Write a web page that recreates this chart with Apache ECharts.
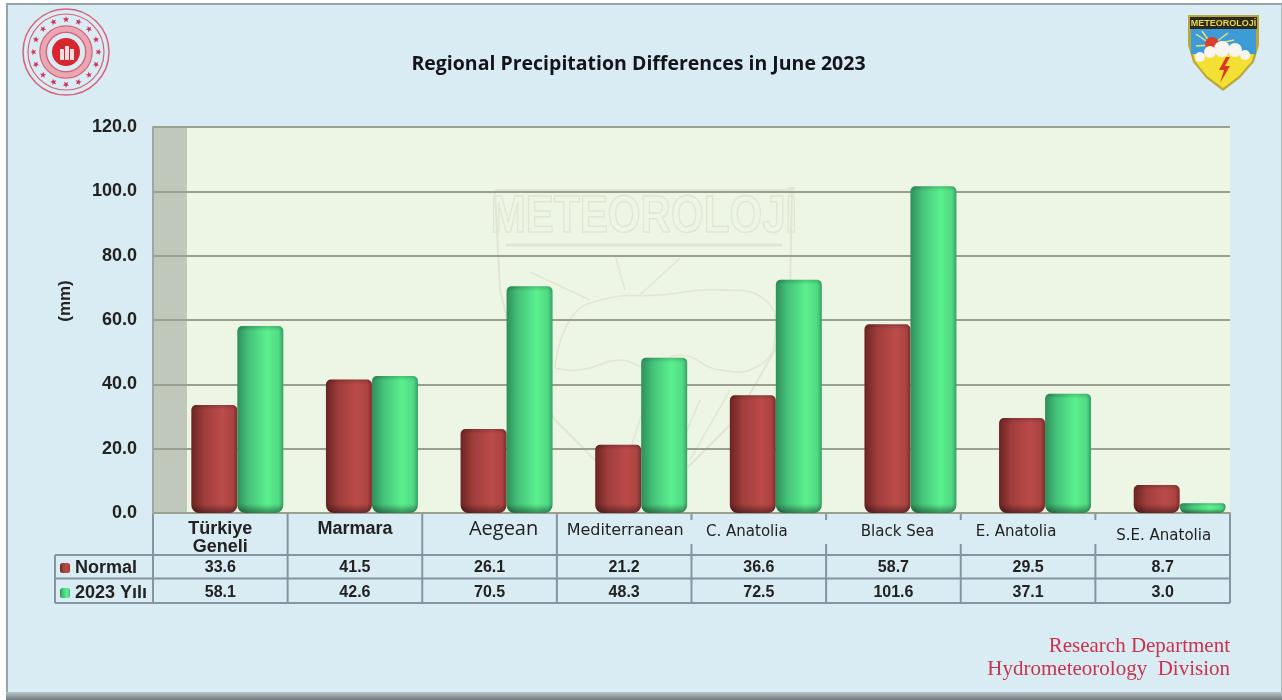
<!DOCTYPE html>
<html><head><meta charset="utf-8">
<style>
html,body{margin:0;padding:0;background:#fff;width:1282px;height:700px;overflow:hidden}
#panel{position:absolute;left:6px;top:3px;width:1273px;height:689px;background:#d9ebf3;border:2px solid #97a5aa;border-bottom:none;border-right:1px solid #a9b6ba}
#shade{position:absolute;left:6px;top:692px;width:1276px;height:8px;background:linear-gradient(#b9c4c8,#6f7b80)}
#c{position:absolute;left:0;top:0;width:1282px;height:700px}
</style>
<script src="https://cdn.jsdelivr.net/npm/echarts@6/dist/echarts.min.js"></script>
</head><body><div id="panel"></div><div id="shade"></div><div id="c"></div>
<script>
const categories = ['Türkiye\nGeneli','Marmara','Aegean','Mediterranean','C. Anatolia','Black Sea','E. Anatolia','S.E. Anatolia'];
const normalValues = [33.6,41.5,26.1,21.2,36.6,58.7,29.5,8.7];
const yearValues = [58.1,42.6,70.5,48.3,72.5,101.6,37.1,3.0];
const yTicks = {min:0,max:120,interval:20};
const titleText = 'Regional Precipitation Differences in June 2023';
const footerLines = ['Research Department','Hydrometeorology  Division'];

// style tables (label placement in the header row of the data table)
const labelStyle = [
 {font:'Liberation Sans',size:18,weight:'bold',dx:0,dy:0},
 {font:'Liberation Sans',size:18,weight:'bold',dx:0,dy:0},
 {font:'Open Sans',size:20,weight:'normal',dx:14,dy:0},
 {font:'DejaVu Sans',size:16,weight:'normal',dx:1,dy:4},
 {font:'DejaVu Sans',size:15,weight:'normal',dx:-12,dy:6},
 {font:'DejaVu Sans',size:15,weight:'normal',dx:4,dy:6},
 {font:'DejaVu Sans',size:15,weight:'normal',dx:-12,dy:6},
 {font:'DejaVu Sans',size:15,weight:'normal',dx:1,dy:15}
];
const rich = {};
labelStyle.forEach((s,i)=>{
  rich['c'+i]={fontFamily:s.font,fontSize:s.size,fontWeight:s.weight,color:'#222',lineHeight:18,
    padding:[s.dy,s.dx<0?-2*s.dx:0,0,s.dx>0?2*s.dx:0]};
});
const G={l:153,w:1077,t:127,h:386,off:17};
const pxPerUnit=G.h/(yTicks.max-yTicks.min);
const hGrad=(stops)=>({type:'linear',x:0,y:0,x2:1,y2:0,colorStops:stops.map(s=>({offset:s[0],color:s[1]}))});
const redFill=hGrad([[0,'#6a2423'],[.28,'#a03e3c'],[.68,'#bb4b49'],[.9,'#ab4442'],[1,'#7c2d2c']]);
const greenFill=hGrad([[0,'#2f8f58'],[.25,'#45c27a'],[.65,'#5bf08e'],[.9,'#50da84'],[1,'#36a066']]);
const shadeItems=(vals)=>vals.map(v=>{
  const h=v*pxPerUnit, t=Math.min(.3,5/h), b=Math.max(.55,1-9/h);
  return {value:v,itemStyle:{color:{type:'linear',x:0,y:0,x2:0,y2:1,colorStops:[
    {offset:0,color:'rgba(0,0,0,0.18)'},{offset:t,color:'rgba(0,0,0,0)'},
    {offset:b,color:'rgba(0,0,0,0)'},{offset:1,color:'rgba(0,0,0,0.42)'}]}}};
});
const radius=[5,5,8,8];

// decoration -----------------------------------------------------------
const gfx=[];
const line=(x1,y1,x2,y2,col,w,z)=>gfx.push({type:'line',z:z||0,silent:true,shape:{x1,y1,x2,y2},style:{stroke:col,lineWidth:w||2}});
// back wall
gfx.push({type:'rect',z:0,silent:true,shape:{x:G.l,y:G.t,width:G.off*2,height:G.h},style:{fill:'#bfc8ba'}});
// data table rules
const rule='#8494a0';
[555,578.5,603].forEach(y=>line(55,y,G.l+G.w,y,rule,2));
line(55,555,55,603,rule,2);
for(let i=0;i<=8;i++){
  const x=G.l+G.w*i/8;
  if(i>=4&&i<=7){line(x,513,x,520,rule,2);line(x,544,x,603,rule,2);}
  else line(x,513,x,603,rule,2);
}
// watermark
const wm='#e1e6d3';
const wmLine=(points,smooth,w)=>gfx.push({type:'polyline',z:0,silent:true,shape:{points,smooth:smooth||0},style:{stroke:wm,lineWidth:w||1.5,fill:'none'}});
wmLine([[495,190],[792,190],[790,290],[775,350],[735,420],[690,465],[645,497],[600,465],[555,420],[515,350],[500,290],[495,190]],0,2);
wmLine([[506,245],[782,245]],0,3);
wmLine([[555,368],[580,370],[620,360],[650,368],[680,355],[720,370],[760,365],[775,335],[765,300],[720,290],[660,295],[600,300],[570,320],[555,368]],0.5);
wmLine([[530,272],[590,300]]);wmLine([[615,255],[625,290]]);wmLine([[680,258],[640,295]]);
wmLine([[700,400],[670,470]]);wmLine([[730,390],[690,460]]);wmLine([[650,390],[625,465]]);
gfx.push({type:'text',z:0,silent:true,scaleX:0.81,originX:644,originY:218,style:{x:644,y:218,align:'center',verticalAlign:'middle',text:'METEOROLOJİ',fontFamily:'Liberation Sans',fontSize:52,fontWeight:'bold',fill:'rgba(0,0,0,0)',stroke:wm,lineWidth:1.5}});
// seal
const sx=66,sy=52,seal='#d9617a';
[[43,1.5],[38,1.2],[26,1.5],[20,2]].forEach(r=>gfx.push({type:'circle',silent:true,shape:{cx:sx,cy:sy,r:r[0]},style:{fill:'none',stroke:seal,lineWidth:r[1]}}));
gfx.push({type:'circle',silent:true,shape:{cx:sx,cy:sy,r:23},style:{fill:'none',stroke:'#e9a7b4',lineWidth:5}});
gfx.push({type:'circle',silent:true,shape:{cx:sx,cy:sy,r:14},style:{fill:'#d8262f'}});
for(let i=0;i<16;i++){
  const a=i*Math.PI/8-Math.PI/2,cx=sx+32.5*Math.cos(a),cy=sy+32.5*Math.sin(a),pts=[];
  for(let k=0;k<10;k++){const r=k%2?1.4:3.3,b=a+k*Math.PI/5;pts.push([cx+r*Math.cos(b),cy+r*Math.sin(b)]);}
  gfx.push({type:'polygon',silent:true,shape:{points:pts},style:{fill:'#cf3355'}});
}
[[60,49,4,11],[65,46,4,14],[70,49,4,11]].forEach(b=>gfx.push({type:'rect',silent:true,shape:{x:b[0],y:b[1],width:b[2],height:b[3]},style:{fill:'#f4dfe0'}}));
// shield
const sh=(pts,fill)=>gfx.push({type:'polygon',silent:true,shape:{points:pts},style:{fill}});
sh([[1188,15],[1259,15],[1259,45],[1254,62],[1240,78],[1223,91],[1206,78],[1193,62],[1188,45]],'#b9a93c');
sh([[1191,29],[1256,29],[1256,45],[1252,61],[1239,76],[1223,88],[1207,76],[1195,61],[1191,45]],'#f3e032');
sh([[1191,29],[1256,29],[1256,54],[1191,54]],'#3d9bd8');
sh([[1190,17],[1257,17],[1257,29],[1190,29]],'#2c2a1c');
[[1196,34],[1202,31],[1228,33],[1234,40],[1196,46]].forEach(p=>line(1212,45,p[0],p[1],'#e8e27a',1.5));
gfx.push({type:'circle',silent:true,shape:{cx:1212,cy:44,r:7},style:{fill:'#d9402c'}});
[[1200,57,5],[1210,52,6],[1222,49,8],[1235,50,7],[1245,55,5]].forEach(c=>gfx.push({type:'circle',silent:true,shape:{cx:c[0],cy:c[1],r:c[2]},style:{fill:'#f6f5f0'}}));
sh([[1226,57],[1219,70],[1224,70],[1220,83],[1230,66],[1225,66],[1230,57]],'#d83a25');
gfx.push({type:'text',silent:true,style:{x:1223.5,y:23.5,align:'center',verticalAlign:'middle',text:'METEOROLOJİ',fontFamily:'Liberation Sans',fontSize:9,fontWeight:'bold',fill:'#e9d64a'}});
// title & footer
gfx.push({type:'text',silent:true,style:{x:638.5,y:64,align:'center',verticalAlign:'middle',text:titleText,fontFamily:'Open Sans',fontSize:19.5,fontWeight:'bold',fill:'#14141c'}});
footerLines.forEach((t,i)=>gfx.push({type:'text',silent:true,style:{x:1230,y:646+i*23,align:'right',verticalAlign:'middle',text:t,fontFamily:'Liberation Serif',fontSize:21,fill:'#c9334e'}}));

const hiddenX=(grid)=>({type:'category',gridIndex:grid,data:categories,show:false});
const hiddenY=(grid)=>({type:'value',gridIndex:grid,...yTicks,show:false});
const rowAxis=(vals,margin)=>({type:'category',gridIndex:0,position:'bottom',data:vals.map(v=>v.toFixed(1)),
  axisLine:{show:false},axisTick:{show:false},
  axisLabel:{interval:0,margin,verticalAlign:'middle',color:'#222',fontFamily:'Liberation Sans',fontSize:16,fontWeight:'bold'}});

const chart=echarts.init(document.getElementById('c'),null,{renderer:'canvas'});
chart.setOption({
  animation:false,
  backgroundColor:'transparent',
  graphic:{elements:gfx},
  legend:{orient:'vertical',left:55,top:554,itemWidth:10,itemHeight:10,itemGap:7,selectedMode:false,
    data:['Normal','2023 Yılı'],icon:'roundRect',
    textStyle:{fontFamily:'Liberation Sans',fontSize:18,fontWeight:'bold',color:'#222',padding:[0,0,0,0]}},
  grid:[
    {left:G.l,top:G.t,width:G.w,height:G.h,show:true,backgroundColor:'#edf5e5',borderWidth:0},
    {left:G.l+G.off,top:G.t,width:G.w,height:G.h}
  ],
  xAxis:[
    {type:'category',gridIndex:0,data:categories,
      axisLine:{lineStyle:{color:'#9a9f8f',width:2}},axisTick:{show:false},
      axisLabel:{interval:0,margin:7,verticalAlign:'top',rich,
        formatter:(v,i)=>v.split('\n').map(l=>'{c'+i+'|'+l+'}').join('\n')}},
    rowAxis(normalValues,55),
    rowAxis(yearValues,79.5),
    hiddenX(1),
    hiddenX(1)
  ],
  yAxis:[
    {type:'value',gridIndex:0,...yTicks,z:1,
      name:'(mm)',nameLocation:'middle',nameRotate:90,nameGap:79,
      nameTextStyle:{fontFamily:'Liberation Sans',fontSize:17,fontWeight:'bold',color:'#222',padding:[0,0,0,38]},
      axisLine:{show:true,lineStyle:{color:'#9aa8ae',width:2}},axisTick:{show:false},
      axisLabel:{margin:16,padding:[6,0,0,0],color:'#222',fontFamily:'Liberation Sans',fontSize:18,fontWeight:'bold',formatter:v=>v.toFixed(1)},
      splitLine:{show:true,lineStyle:{color:'#9a9f8f',width:2}}},
    hiddenY(1),
    hiddenY(1)
  ],
  series:[
    {name:'Normal',type:'bar',xAxisIndex:3,yAxisIndex:1,data:normalValues,barWidth:46,barGap:0,itemStyle:{color:redFill,borderRadius:radius}},
    {name:'2023 Yılı',type:'bar',xAxisIndex:3,yAxisIndex:1,data:yearValues,barWidth:46,barGap:0,itemStyle:{color:greenFill,borderRadius:radius}},
    {name:'normal-shade',type:'bar',xAxisIndex:4,yAxisIndex:2,data:shadeItems(normalValues),barWidth:46,barGap:0,silent:true,z:3,itemStyle:{borderRadius:radius}},
    {name:'year-shade',type:'bar',xAxisIndex:4,yAxisIndex:2,data:shadeItems(yearValues),barWidth:46,barGap:0,silent:true,z:3,itemStyle:{borderRadius:radius}}
  ]
});
</script></body></html>
